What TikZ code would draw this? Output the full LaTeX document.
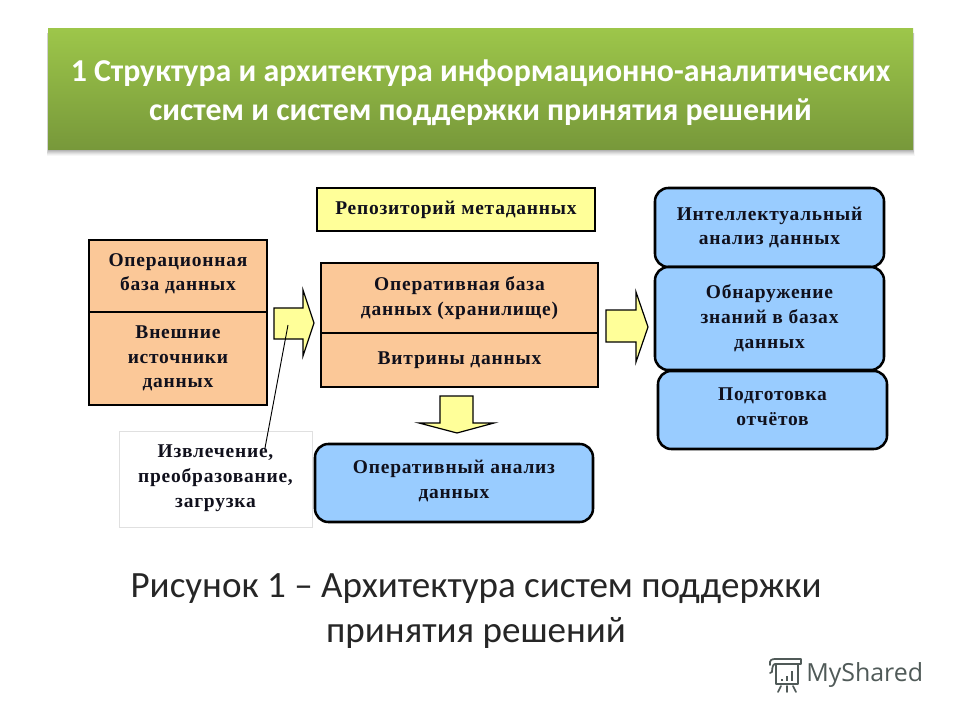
\documentclass[tikz,border=0pt]{standalone}
\usepackage{fontspec}
\setmainfont{Carlito}
\newfontfamily\boxfont[LetterSpace=4]{Liberation Serif}
\newfontfamily\logofont{Open Sans}
\definecolor{orangefill}{HTML}{FBC898}
\definecolor{bluefill}{HTML}{99CCFF}
\definecolor{yellowfill}{HTML}{FFFF99}
\definecolor{inkdark}{HTML}{10101C}
\definecolor{greentop}{HTML}{9DC64A}
\definecolor{greenbot}{HTML}{77983A}
\definecolor{capink}{HTML}{262626}
\definecolor{logoink}{HTML}{505A58}
\def\px{0.75pt}
\newcommand{\lifted}[1]{\rule[-#1pt]{0pt}{0pt}}
\tikzset{
  x=0.75pt,y=-0.75pt,
  txt/.style={font=\boxfont\bfseries\fontsize{14.6}{18.6}\selectfont,text=inkdark,align=center,inner sep=0pt},
  sqbox/.style={draw=black,line width=1.9pt,txt},
  orangebox/.style={sqbox,fill=orangefill},
  yellowbox/.style={sqbox,fill=yellowfill},
  bluebox/.style={sqbox,fill=bluefill,rounded corners=10pt},
  blockarrow/.style={draw=black,line width=0.9pt,fill=yellowfill,line join=miter},
  sizing/.style 2 args={minimum width=#1*\px,minimum height=#2*\px},
  softshadow/.style={fill=black,opacity=#1,draw=none},
}
\begin{document}
\begin{tikzpicture}
\useasboundingbox[fill=white] (0,0) rectangle (960,720);
% title shadow
\foreach \g/\o in {6/0.03,5/0.04,4/0.05,3/0.06,2/0.07,1/0.08}{
  \fill[softshadow=\o] (48-\g*0.25,33) rectangle (913+\g*0.25,150+\g);
}
% title
\node[sizing={865}{121},inner sep=0pt,top color=greentop,bottom color=greenbot,
      text=white,align=center,font=\bfseries\fontsize{23.9}{29.2}\selectfont] (title) at (480.5,89.5)
  {\rule{0pt}{20.5pt}1 Структура и архитектура информационно-аналитических\\систем и систем поддержки принятия решений};

% boxes
\node[yellowbox,sizing={278}{43}] (repo) at (456,209.5) {Репозиторий метаданных};
\node[orangebox,sizing={178}{72}] (opdb) at (178,276) {Операционная\\база данных\lifted{6}};
\node[orangebox,sizing={178}{93}] (ext) at (178,358.5) {Внешние\\источники\\данных};
\node[orangebox,sizing={277}{70}] (store) at (459.5,298) {Оперативная база\\данных (хранилище)};
\node[orangebox,sizing={277}{54}] (marts) at (459.5,360) {Витрины данных};
\node[bluebox,sizing={278}{78}] (olap) at (454,483) {Оперативный анализ\\данных\lifted{5}};
\node[bluebox,sizing={229}{79}] (mining) at (769.5,227.5) {Интеллектуальный\\анализ данных};
\node[bluebox,sizing={229}{103}] (kdd) at (769.5,318.5) {Обнаружение\\знаний в базах\\данных};
\node[bluebox,sizing={229}{78}] (report) at (772.5,410) {Подготовка\\отчётов\lifted{4.5}};

% block arrows
\coordinate (a1c) at (288,325);
\draw[blockarrow] (274,308) -- (303,308) -- (303,290) -- (314,323) -- (303,356) -- (303,339) -- (274,339) -- cycle;
\draw[blockarrow] (606,310) -- (636,310) -- (636,292) -- (648,327) -- (636,362) -- (636,342) -- (606,342) -- cycle;
\draw[blockarrow] (440,396) -- (473,396) -- (473,423) -- (494,423) -- (457,433) -- (419,423) -- (440,423) -- cycle;

% label
\node[draw=black!12,line width=0.5pt,fill=white,sizing={193}{96},txt] (etl) at (215.5,479) {Извлечение,\\преобразование,\\загрузка\lifted{4}};
\coordinate (etlend) at (265,448);
\draw[black,line width=0.7pt] (etlend) -- (a1c);

% caption
\node[text=capink,align=center,inner sep=0pt,font=\fontsize{27.8}{33.8}\selectfont] (caption) at (476,611.5)
  {Рисунок 1 – Архитектура систем поддержки\\принятия решений};

% logo
\begin{scope}[logoink,line width=1.3pt,line cap=round,line join=round]
  \draw (770,665) .. controls (769,660) and (772,659) .. (775,659) -- (801,659) -- (801,664) -- (775,664) .. controls (773,664) and (772,668) .. (772,672) -- (770,673);
  \draw (776,664) -- (776,684) -- (798,684) -- (798,664);
  \fill (781,679) rectangle (783,681);
  \fill (786,676) rectangle (788,681);
  \fill (791,671) rectangle (793,681);
  \draw (781,686) -- (778,692) (787,686) -- (787,692) (793,686) -- (796,692);
\end{scope}
\node[text=logoink,font=\logofont\fontsize{18.7}{20}\selectfont,inner sep=0pt,anchor=west] (logo) at (806,675) {MyShared};
\end{tikzpicture}
\end{document}
